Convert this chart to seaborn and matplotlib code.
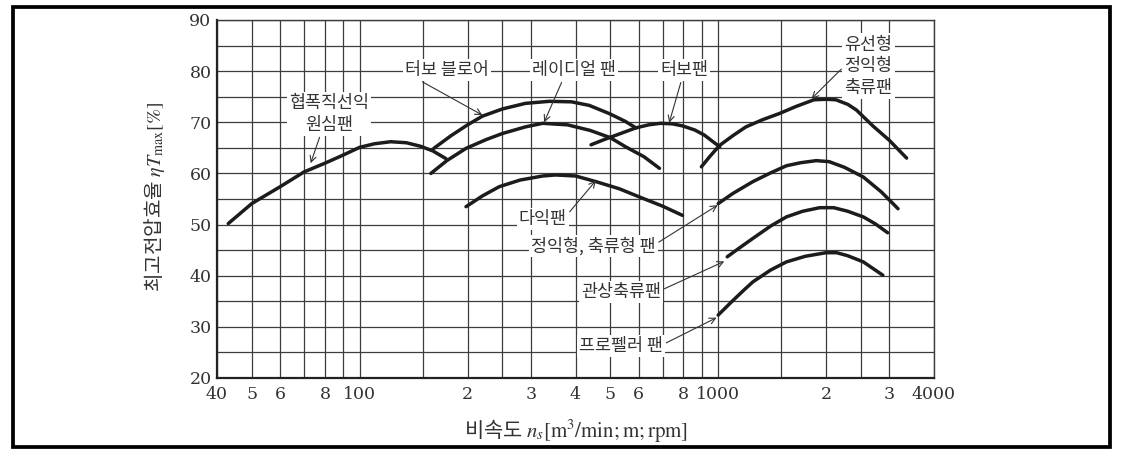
import numpy as np
import pandas as pd
import matplotlib
matplotlib.use("Agg")
import matplotlib.pyplot as plt
import seaborn as sns
from matplotlib.patches import Rectangle
from matplotlib.ticker import NullLocator

# ---------------- data ----------------
narrow_x = [43, 50, 60, 70, 80, 90, 100, 110, 122, 135, 148, 160, 174]
narrow_y = [50.2, 54.1, 57.4, 60.3, 62.0, 63.6, 65.1, 65.8, 66.2, 66.0, 65.3, 64.4, 62.9]

blower_x = [161, 180, 200, 220, 250, 290, 338, 390, 437, 497, 550, 590]
blower_y = [64.9, 67.4, 69.5, 71.2, 72.6, 73.7, 74.1, 74.0, 73.3, 71.7, 70.2, 68.9]

radial_x = [158, 175, 198, 225, 250, 290, 324, 380, 440, 500, 552, 620, 686]
radial_y = [60.0, 62.5, 64.9, 66.6, 67.8, 69.1, 69.8, 69.5, 68.4, 67.0, 65.2, 63.3, 61.0]

multi_x = [198, 220, 245, 280, 324, 352, 400, 456, 530, 603, 700, 795]
multi_y = [53.5, 55.6, 57.4, 58.7, 59.5, 59.7, 59.5, 58.4, 57.0, 55.4, 53.6, 51.8]

turbo_x = [442, 480, 520, 589, 640, 690, 745, 795, 860, 915, 1010]
turbo_y = [65.6, 66.6, 67.5, 68.9, 69.5, 69.8, 69.7, 69.3, 68.5, 67.5, 65.2]

airfoil_x = [898, 950, 1010, 1100, 1195, 1330, 1480, 1650, 1850, 2000, 2130, 2300,
             2430, 2700, 3000, 3355]
airfoil_y = [61.3, 63.4, 65.5, 67.4, 69.1, 70.5, 71.7, 73.1, 74.4, 74.5, 74.4, 73.5,
             72.4, 69.3, 66.5, 63.0]

vane_x = [1000, 1100, 1250, 1400, 1550, 1700, 1878, 2040, 2250, 2540, 2850, 3175]
vane_y = [54.1, 56.1, 58.4, 60.1, 61.5, 62.1, 62.5, 62.3, 61.2, 59.3, 56.4, 53.1]

tube_x = [1060, 1150, 1250, 1400, 1550, 1720, 1920, 2100, 2300, 2540, 2750, 2970]
tube_y = [43.7, 45.5, 47.3, 49.7, 51.5, 52.6, 53.3, 53.3, 52.6, 51.5, 50.1, 48.4]

prop_x = [1000, 1090, 1180, 1250, 1400, 1550, 1750, 2000, 2140, 2300, 2540, 2880]
prop_y = [32.3, 34.9, 37.2, 38.8, 41.1, 42.7, 43.8, 44.5, 44.5, 43.9, 42.7, 40.1]

fan_names = ["협폭직선익 원심팬", "터보 블로어", "레이디얼 팬", "다익팬", "터보팬",
             "유선형 정익형 축류팬", "정익형, 축류형 팬", "관상축류팬", "프로펠러 팬"]
fan_x = [narrow_x, blower_x, radial_x, multi_x, turbo_x, airfoil_x, vane_x, tube_x, prop_x]
fan_y = [narrow_y, blower_y, radial_y, multi_y, turbo_y, airfoil_y, vane_y, tube_y, prop_y]

x_grid = [40, 50, 60, 70, 80, 90, 100, 150, 200, 250, 300, 400, 500, 600, 700,
          800, 900, 1000, 1500, 2000, 2500, 3000, 4000]
x_tick_labels = ["40", "5", "6", "", "8", "", "100", "", "2", "", "3", "4", "5", "6", "",
                 "8", "", "1000", "", "2", "", "3", "4000"]
y_major = [20, 30, 40, 50, 60, 70, 80, 90]
y_tick_labels = ["20", "30", "40", "50", "60", "70", "80", "90"]
y_minor = [25, 35, 45, 55, 65, 75, 85]

x_label = r"비속도 $n_s[\mathrm{m}^3/\mathrm{min};\mathrm{m};\mathrm{rpm}]$"
y_label = r"최고전압효율 $\eta T_{\mathrm{max}}[\%]$"

# ---------------- styling ----------------
sns.set_theme(style="white")
plt.rcParams["font.family"] = ["Noto Sans CJK KR", "DejaVu Sans"]
plt.rcParams["mathtext.fontset"] = "stix"
plt.rcParams["axes.unicode_minus"] = False

W, H = 1133, 459
fig = plt.figure(figsize=(W / 100, H / 100), dpi=100)
fig.patch.set_facecolor("white")
ax_l, ax_r, ax_t, ax_b = 217, 934, 20, 378
ax = fig.add_axes([ax_l / W, 1 - ax_b / H, (ax_r - ax_l) / W, (ax_b - ax_t) / H])

frames = [pd.DataFrame({"fan": n, "ns": xs, "eta": ys})
          for n, xs, ys in zip(fan_names, fan_x, fan_y)]
df = pd.concat(frames, ignore_index=True)

sns.lineplot(data=df, x="ns", y="eta", hue="fan", estimator=None, sort=False,
             palette={n: "#1c1c1c" for n in fan_names}, legend=False,
             linewidth=2.5, solid_joinstyle="round", ax=ax, zorder=3)

ax.set_xscale("log")
ax.set_xlim(40, 4000)
ax.set_ylim(20, 90)
ax.set_xticks(x_grid, labels=x_tick_labels)
ax.xaxis.set_minor_locator(NullLocator())
ax.set_yticks(y_major, labels=y_tick_labels)
ax.set_yticks(y_minor, minor=True)
ax.grid(True, which="both", color="#3c3c3c", linewidth=0.9)
ax.set_axisbelow(True)
ax.tick_params(axis="both", which="both", length=0, labelsize=12.5,
               labelcolor="#333333", labelfontfamily="DejaVu Serif")
ax.tick_params(axis="x", pad=6)
ax.tick_params(axis="y", pad=4)
for side in ["left", "bottom"]:
    ax.spines[side].set_linewidth(1.6)
    ax.spines[side].set_color("#222222")
for side in ["top", "right"]:
    ax.spines[side].set_linewidth(1.0)
    ax.spines[side].set_color("#3c3c3c")

ax.set_xlabel(x_label, fontsize=15, color="#333333")
ax.set_ylabel(y_label, fontsize=14.5, color="#333333")
ax.xaxis.set_label_coords(0.5, -0.108)
ax.yaxis.set_label_coords(-0.07, 0.507)

# ---------------- annotations ----------------
annotations = [
    ("협폭직선익\n원심팬", (73, 62.0), (82, 71.6), (0.4, 0.0)),
    ("터보 블로어", (220, 71.4), (175, 80.2), (0.15, 0.0)),
    ("레이디얼 팬", (327, 70.0), (396, 80.2), (0.37, 0.0)),
    ("터보팬", (730, 69.9), (804, 80.2), (0.45, 0.0)),
    ("유선형\n정익형\n축류팬", (1821, 74.6), (2625, 81.0), (0.0, 0.5)),
    ("다익팬", (456, 58.6), (324, 51.1), (1.0, 0.7)),
    ("정익형, 축류형 팬", (997, 53.8), (448, 45.8), (1.0, 0.6)),
    ("관상축류팬", (1040, 42.8), (536, 36.8), (1.0, 0.6)),
    ("프로펠러 팬", (990, 31.8), (536, 26.2), (1.0, 0.6)),
]
for text, tip, pos, rel in annotations:
    ax.annotate(text, xy=tip, xytext=pos, xycoords="data", textcoords="data",
                ha="center", va="center", fontsize=12.5, color="#333333",
                linespacing=1.25, zorder=5,
                bbox=dict(boxstyle="square,pad=0.12", fc="white", ec="none"),
                arrowprops=dict(arrowstyle="->", lw=0.8, color="#333333",
                                relpos=rel, shrinkA=1, shrinkB=0,
                                mutation_scale=11))

# outer frame
fig.patches.append(Rectangle((13.3 / W, 1 - 446.5 / H), (1110 - 13.3) / W,
                             (446.5 - 6.7) / H, transform=fig.transFigure,
                             fill=False, lw=2.7, ec="black"))

fig.savefig("out.png", dpi=100, facecolor="white")
